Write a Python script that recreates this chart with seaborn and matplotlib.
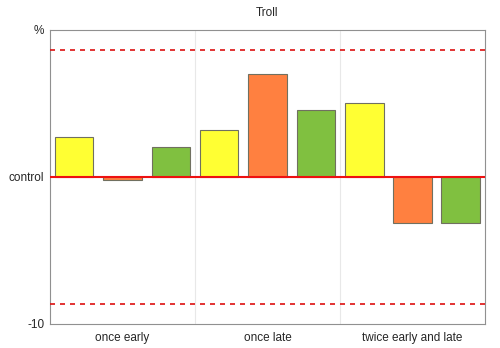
import matplotlib
matplotlib.use("Agg")
import matplotlib.pyplot as plt
import seaborn as sns
import pandas as pd

categories = ["once early", "once late", "twice early and late"]
series = ["s1", "s2", "s3"]
values_s1 = [2.7, 3.2, 5.0]
values_s2 = [-0.2, 7.0, -3.15]
values_s3 = [2.05, 4.55, -3.15]
dashed_levels = [8.65, -8.65]
palette = ["#FFFF33", "#FF8040", "#80C040"]

rows = []
for s, vals in zip(series, [values_s1, values_s2, values_s3]):
    for c, v in zip(categories, vals):
        rows.append({"cat": c, "series": s, "value": v})
df = pd.DataFrame(rows)

sns.set_style("white")
plt.rcParams["font.family"] = ["Liberation Sans", "DejaVu Sans"]

fig = plt.figure(figsize=(5, 3.48), dpi=100)
ax = fig.add_axes([0.1, 0.069, 0.87, 0.845])

sns.barplot(data=df, x="cat", y="value", hue="series", palette=palette,
            saturation=1, width=1.0, gap=0.2, edgecolor="#707060",
            linewidth=0.8, legend=False, ax=ax, zorder=2)

ax.set_ylim(-10, 10)
ax.set_xlim(-0.5, 2.5)
ax.axhline(0, color="#EE1111", lw=1.5, zorder=3)
for lv in dashed_levels:
    ax.axhline(lv, color="#DD1111", lw=1.2, ls=(0, (3, 3)), zorder=3)
for xv in [0.5, 1.5]:
    ax.axvline(xv, color="#E8E8E8", lw=0.8, zorder=0)

ax.set_yticks([10, 0, -10])
ax.set_yticklabels(["%", "control", "-10"], fontsize=8.5)
ax.set_xticks([0, 1, 2])
ax.set_xticklabels(categories, fontsize=8.5)
ax.tick_params(axis="x", length=0, pad=6)
ax.tick_params(axis="y", length=0, pad=4)
ax.set_xlabel("")
ax.set_ylabel("")
ax.set_title("Troll", fontsize=8.5, pad=10)
for sp in ax.spines.values():
    sp.set_color("#909090")
    sp.set_linewidth(0.8)

fig.savefig("out.png", dpi=100)
